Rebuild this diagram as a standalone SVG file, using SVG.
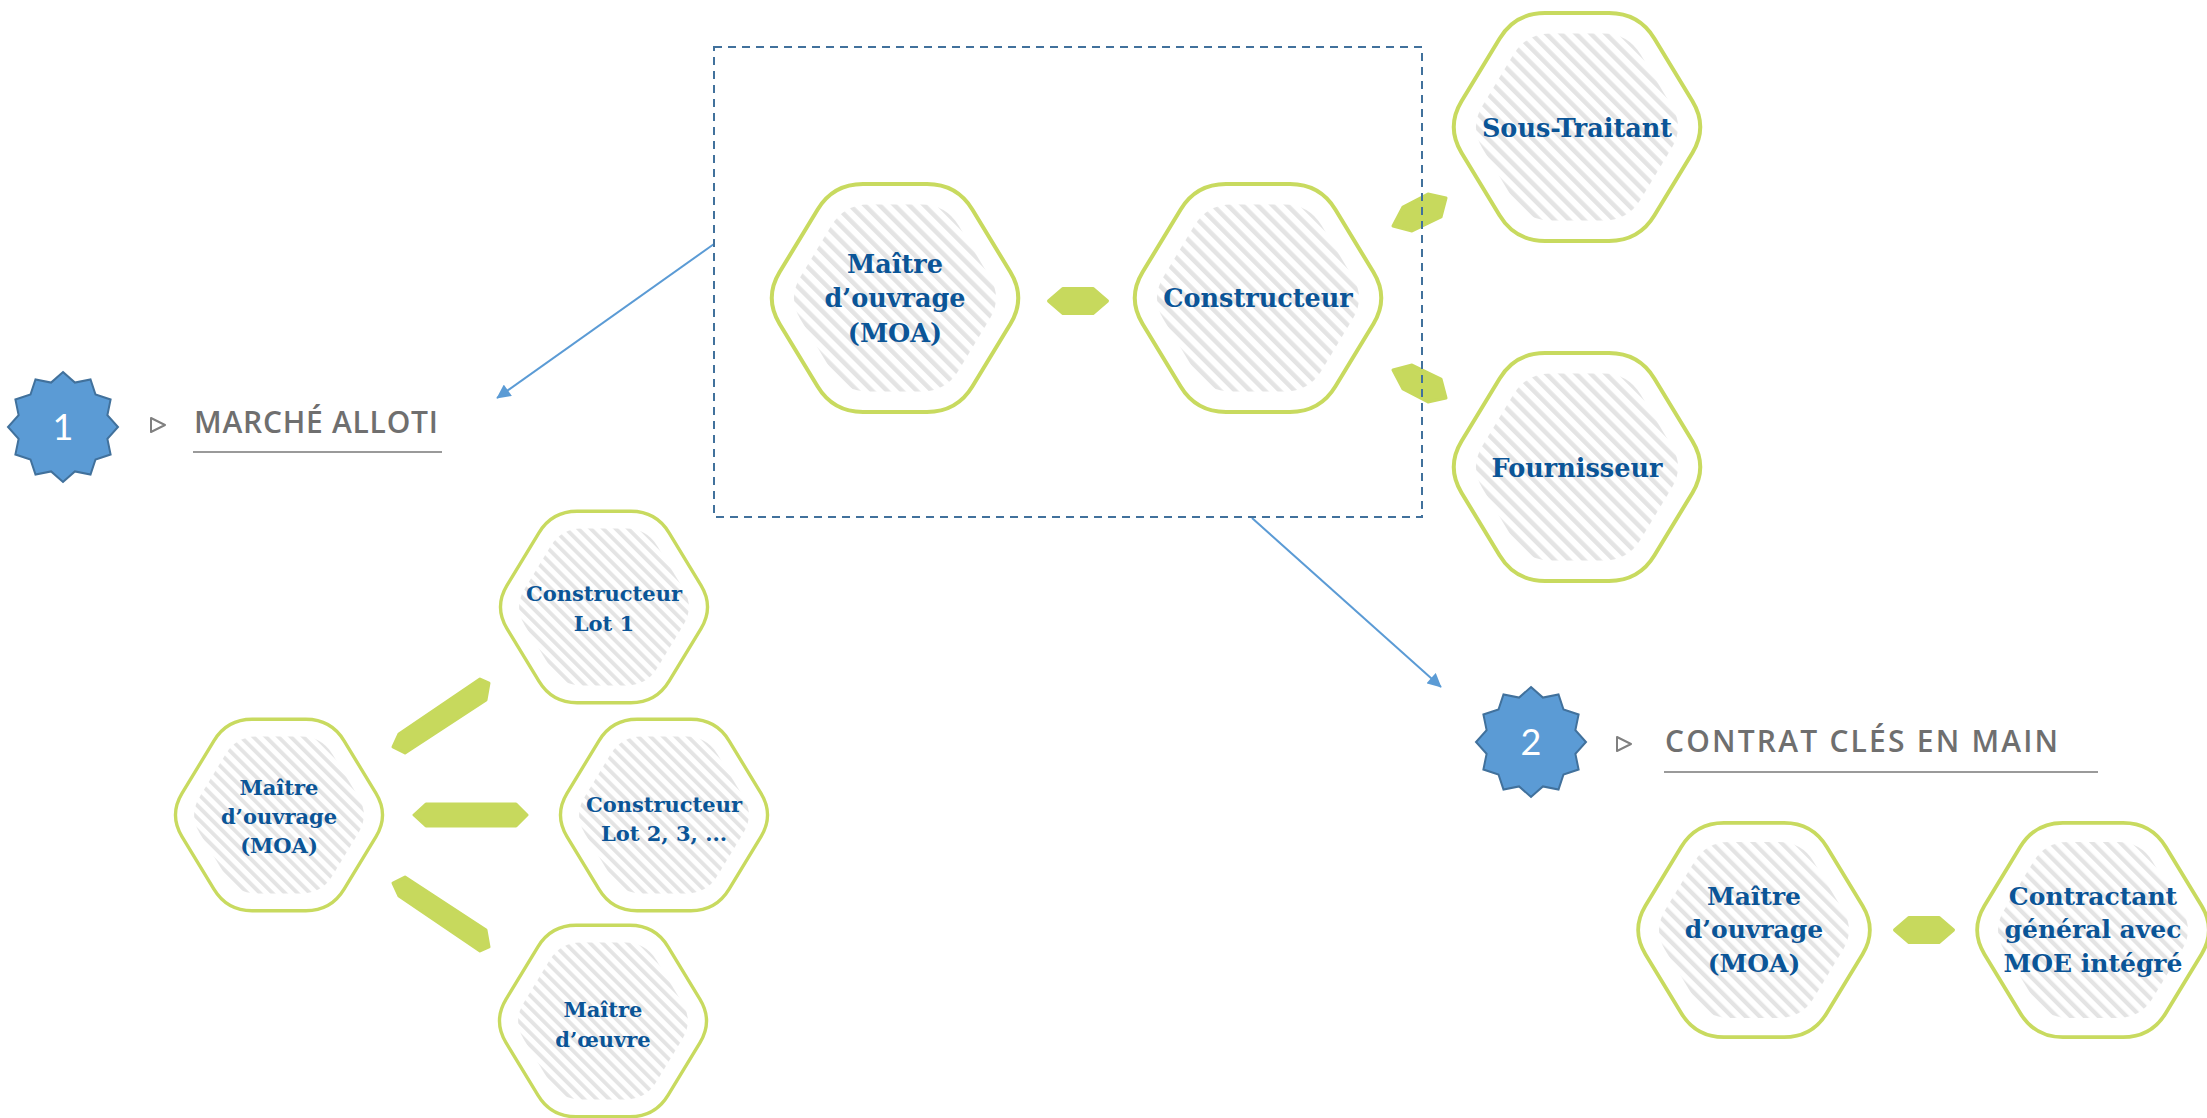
<svg xmlns="http://www.w3.org/2000/svg" xmlns:xlink="http://www.w3.org/1999/xlink" width="2207" height="1118" viewBox="0 0 2207 1118">
<style>
.hx{fill:#fff;stroke:#c8da5f;stroke-width:4}
.t{font-family:"DejaVu Serif",serif;font-weight:bold;fill:#0b5597;text-anchor:middle}
.big{font-size:25.5px}
.sm{font-size:21px}
.md{font-size:25px}
.cn{fill:#c7d95d;stroke:#c7d95d;stroke-width:3;stroke-linejoin:round}
.hd{font-family:"Open Sans",sans-serif;font-weight:600;font-size:30px;fill:#6f6f6f}
.ul{stroke:#9a9a9a;stroke-width:2}
.tri{fill:none;stroke:#808080;stroke-width:2;stroke-linejoin:round}
.st{fill:#5b9bd5;stroke:#41719c;stroke-width:2}
.sn{font-family:Lato,"Open Sans",sans-serif;font-size:36px;fill:#fff;text-anchor:middle}
.ar{stroke:#5b9bd5;stroke-width:2;fill:none;marker-end:url(#ah)}
.dash{fill:none;stroke:#41719c;stroke-width:2;stroke-dasharray:8 6}
</style>
<defs>
<pattern id="hatch" patternUnits="userSpaceOnUse" width="10.5" height="10.5" patternTransform="rotate(-45)">
<rect width="10.5" height="10.5" fill="#fff"/>
<rect width="4.5" height="10.5" fill="#e4e4e4"/>
</pattern>
<g id="hex">
<path class="hx" d="M-115.5,-25.7 L-77.5,-88.3 Q-62,-114 -32,-114 L32,-114 Q62,-114 77.5,-88.3 L115.5,-25.7 Q131,0 115.5,25.7 L77.5,88.3 Q62,114 32,114 L-32,114 Q-62,114 -77.5,88.3 L-115.5,25.7 Q-131,0 -115.5,-25.7 Z"/>
<path fill="url(#hatch)" d="M-94.7,-21.1 L-63.6,-72.4 Q-50.8,-93.5 -26.2,-93.5 L26.2,-93.5 Q50.8,-93.5 63.6,-72.4 L94.7,-21.1 Q107.4,0 94.7,21.1 L63.6,72.4 Q50.8,93.5 26.2,93.5 L-26.2,93.5 Q-50.8,93.5 -63.6,72.4 L-94.7,21.1 Q-107.4,0 -94.7,-21.1 Z"/>
</g>
<polygon id="star" points="0,-55 11.9,-44.4 27.5,-47.6 32.5,-32.5 47.6,-27.5 44.4,-11.9 55,0 44.4,11.9 47.6,27.5 32.5,32.5 27.5,47.6 11.9,44.4 0,55 -11.9,44.4 -27.5,47.6 -32.5,32.5 -47.6,27.5 -44.4,11.9 -55,0 -44.4,-11.9 -47.6,-27.5 -32.5,-32.5 -27.5,-47.6 -11.9,-44.4"/>
<path id="pill" d="M-29.5,0 L-15,-12.5 L15,-12.5 L29.5,0 L15,12.5 L-15,12.5 Z"/>
<marker id="ah" viewBox="0 0 10 10" refX="9.5" refY="5" markerWidth="7.5" markerHeight="7" orient="auto" markerUnits="strokeWidth">
<path d="M0,0 L10,5 L0,10 Z" fill="#5b9bd5"/>
</marker>
</defs>
<rect width="2207" height="1118" fill="#fff"/>

<g id="connectors">
<use href="#pill" class="cn" transform="translate(1078,301)"/>
<use href="#pill" class="cn" transform="translate(1924,930)"/>
<polygon class="cn" points="1393,226 1403,207 1428,194 1446,198 1441,217 1412,231"/>
<polygon class="cn" points="1393,370 1403,389 1428,402 1446,398 1441,379 1412,365"/>
<path class="cn" d="M414,815 L426,804 L516,804 L527,815 L516,826 L426,826 Z"/>
<polygon class="cn" points="393,747 399,734 480,679 489,683 486,700 405,753"/>
<polygon class="cn" points="393,883 399,896 480,951 489,947 486,930 405,877"/>
<line class="ar" x1="714" y1="244" x2="497" y2="398"/>
<line class="ar" x1="1252" y1="518" x2="1441" y2="687"/>
</g>

<g id="frame">
<rect class="dash" x="714" y="47" width="708" height="470"/>
</g>

<g id="header-1">
<use href="#star" class="st" transform="translate(63,427)"/>
<text class="sn" x="63" y="440">1</text>
<polygon class="tri" points="151,418 165,425 151,432"/>
<text class="hd" x="194" y="433" letter-spacing="0.75">MARCHÉ ALLOTI</text>
<line class="ul" x1="193" y1="452" x2="442" y2="452"/>
</g>

<g id="header-2">
<use href="#star" class="st" transform="translate(1531,742)"/>
<text class="sn" x="1531" y="755">2</text>
<polygon class="tri" points="1617,737 1631,744 1617,751"/>
<text class="hd" x="1665" y="752" letter-spacing="2.2">CONTRAT CLÉS EN MAIN</text>
<line class="ul" x1="1664" y1="772" x2="2098" y2="772"/>
</g>

<g id="node-moa-top">
<use href="#hex" transform="translate(895,298)"/>
<text class="t big" x="895" y="273">Maître</text>
<text class="t big" x="895" y="307">d’ouvrage</text>
<text class="t big" x="895" y="342">(MOA)</text>
</g>

<g id="node-constructeur">
<use href="#hex" transform="translate(1258,298)"/>
<text class="t big" x="1258" y="307">Constructeur</text>
</g>

<g id="node-sous-traitant">
<use href="#hex" transform="translate(1577,127)"/>
<text class="t big" x="1577" y="137">Sous-Traitant</text>
</g>

<g id="node-fournisseur">
<use href="#hex" transform="translate(1577,467)"/>
<text class="t big" x="1577" y="477">Fournisseur</text>
</g>

<g id="node-lot1">
<use href="#hex" transform="translate(604,607) scale(0.84)"/>
<text class="t sm" x="604" y="601">Constructeur</text>
<text class="t sm" x="604" y="631">Lot 1</text>
</g>

<g id="node-lot2">
<use href="#hex" transform="translate(664,815) scale(0.84)"/>
<text class="t sm" x="664" y="812">Constructeur</text>
<text class="t sm" x="664" y="841">Lot 2, 3, ...</text>
</g>

<g id="node-moe">
<use href="#hex" transform="translate(603,1021) scale(0.84)"/>
<text class="t sm" x="603" y="1017">Maître</text>
<text class="t sm" x="603" y="1047">d’œuvre</text>
</g>

<g id="node-moa-left">
<use href="#hex" transform="translate(279,815) scale(0.84)"/>
<text class="t sm" x="279" y="795">Maître</text>
<text class="t sm" x="279" y="824">d’ouvrage</text>
<text class="t sm" x="279" y="853">(MOA)</text>
</g>

<g id="node-moa-right">
<use href="#hex" transform="translate(1754,930) scale(0.94)"/>
<text class="t md" x="1754" y="905">Maître</text>
<text class="t md" x="1754" y="938">d’ouvrage</text>
<text class="t md" x="1754" y="972">(MOA)</text>
</g>

<g id="node-contractant">
<use href="#hex" transform="translate(2093,930) scale(0.94)"/>
<text class="t md" x="2093" y="905">Contractant</text>
<text class="t md" x="2093" y="938">général avec</text>
<text class="t md" x="2093" y="972">MOE intégré</text>
</g>
</svg>
